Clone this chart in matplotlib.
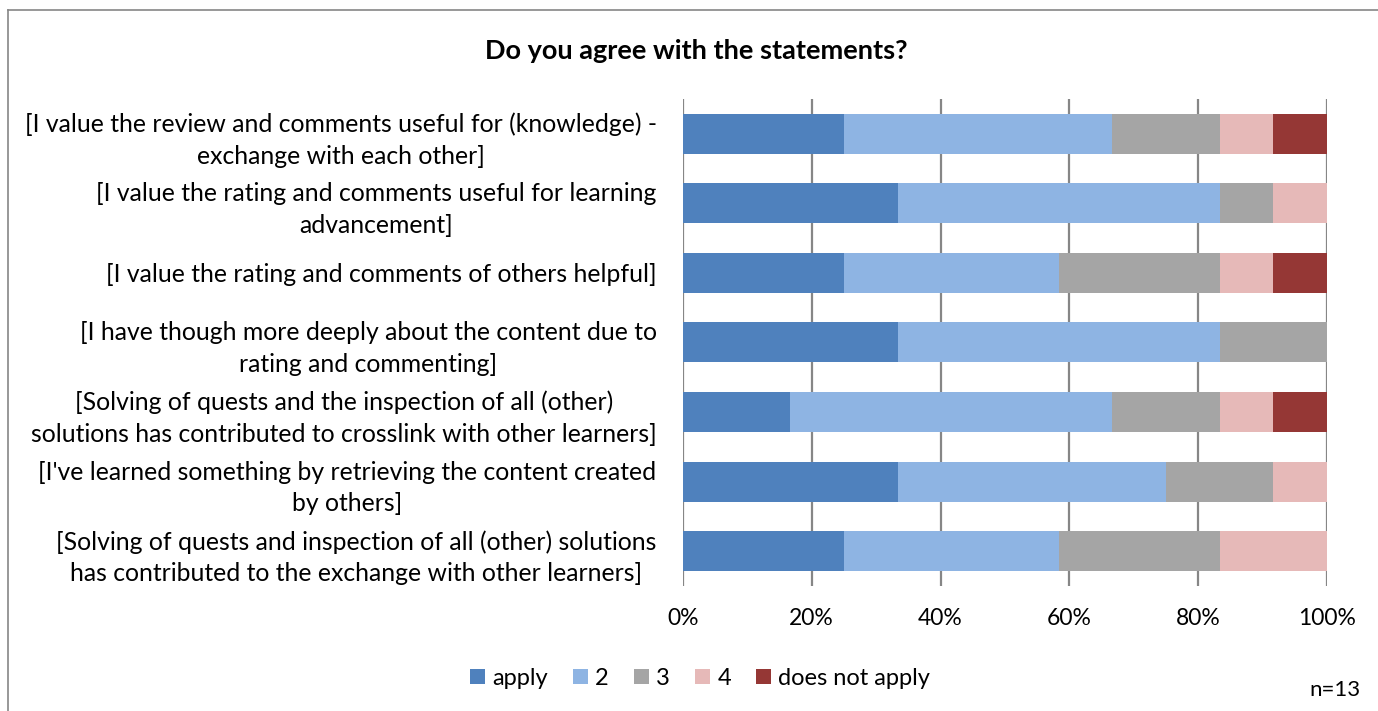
import numpy as np
import matplotlib.pyplot as plt
from matplotlib.lines import Line2D
from matplotlib.patches import Patch
from matplotlib.transforms import ScaledTranslation

plt.rcParams['font.family'] = ['Lato', 'DejaVu Sans']

# ------------------------------------------------------------
# data (answers out of 12 responses per statement)
# ------------------------------------------------------------
statements = [
    "[I value the review and comments useful for (knowledge) -\nexchange with each other]",
    "[I value the rating and comments useful for learning\nadvancement]",
    "[I value the rating and comments of others helpful]",
    "[I have though more deeply about the content due to\nrating and commenting]",
    "[Solving of quests and the inspection of all (other)\nsolutions has contributed to crosslink with other learners]",
    "[I've learned something by retrieving the content created\nby others]",
    "[Solving of quests and inspection of all (other) solutions\nhas contributed to the exchange with other learners]",
]
answers = ["apply", "2", "3", "4", "does not apply"]

apply_cnt = [3, 4, 3, 4, 2, 4, 3]
two_cnt = [5, 6, 4, 6, 6, 5, 4]
three_cnt = [2, 1, 3, 2, 2, 2, 3]
four_cnt = [1, 1, 1, 0, 1, 1, 2]
dna_cnt = [1, 0, 1, 0, 1, 0, 0]

colors = ["#4F81BD", "#8EB4E3", "#A5A5A5", "#E6B9B8", "#953735"]

counts = np.array([apply_cnt, two_cnt, three_cnt, four_cnt, dna_cnt], dtype=float)
pct = counts / counts.sum(axis=0) * 100

# ------------------------------------------------------------
# figure
# ------------------------------------------------------------
fig = plt.figure(figsize=(13.78, 7.11), dpi=100)
ax = fig.add_axes([0.4956, 0.1758, 0.4673, 0.685])

y = np.arange(len(statements))
left = np.zeros(len(statements))
for i, name in enumerate(answers):
    ax.barh(y, pct[i], left=left, height=0.575, color=colors[i],
            label=name, zorder=3)
    left += pct[i]

ax.set_xlim(0, 100)
ax.set_ylim(len(statements) - 0.5, -0.5)
ax.set_xticks(np.arange(0, 101, 20))
ax.set_xticklabels([f"{v}%" for v in range(0, 101, 20)], fontsize=16.5)
ax.set_yticks(y)
ax.set_yticklabels(statements, fontsize=17.8, multialignment="center",
                   linespacing=1.45)

# nudge category labels up a little
shift = ScaledTranslation(0, 0.045, fig.dpi_scale_trans)
for lab in ax.get_yticklabels():
    lab.set_transform(lab.get_transform() + shift)

ax.tick_params(axis="x", length=0, pad=16)
ax.tick_params(axis="y", length=0, pad=19)
ax.grid(axis="x", color="#868686", linewidth=1.6, zorder=0)
for s in ax.spines.values():
    s.set_visible(False)

fig.text(0.505, 0.928, "Do you agree with the statements?",
         ha="center", va="center", fontsize=19.5, fontweight="bold")

handles = [Patch(facecolor=c, edgecolor="none") for c in colors]
fig.legend(handles, answers, loc="center", bbox_to_anchor=(0.508, 0.046),
           ncol=5, frameon=False, fontsize=17, handlelength=0.65,
           handleheight=0.65, handletextpad=0.3, columnspacing=1.05)

fig.text(0.987, 0.029, "n=13", ha="right", va="center", fontsize=16)

# chart border (only top and left edges visible)
fig.add_artist(Line2D([0.006, 0.006], [0, 0.986], transform=fig.transFigure,
                      color="#868686", linewidth=1.2))
fig.add_artist(Line2D([0.006, 1.0], [0.986, 0.986], transform=fig.transFigure,
                      color="#868686", linewidth=1.2))

fig.savefig("out.png", dpi=100)
